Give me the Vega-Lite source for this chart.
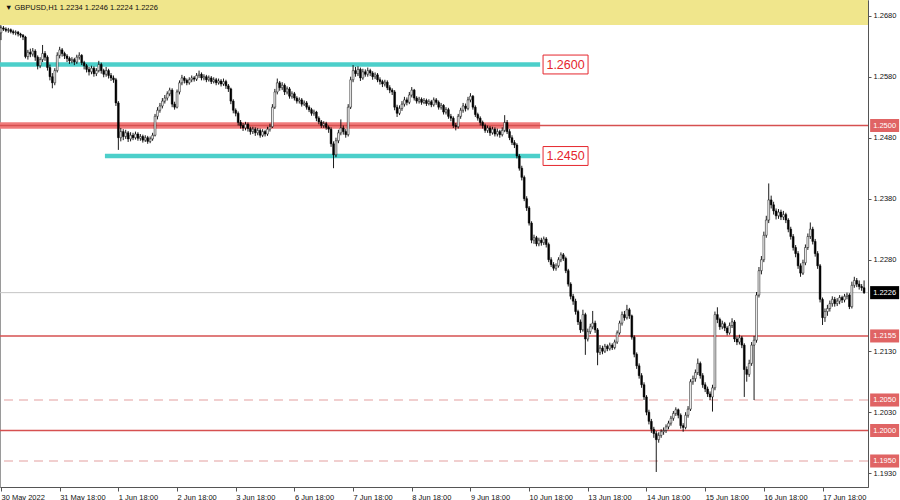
{
"$schema": "https://vega.github.io/schema/vega-lite/v6.json",
"width": 868,
"height": 487,
"autosize": {"type": "none"},
"padding": {"left": 0, "top": 0, "right": 32, "bottom": 13},
"background": "white",
"config": {
"view": {"stroke": "#9a9a9a", "strokeWidth": 1},
"axis": {"grid": false, "labelFont": "Liberation Sans", "labelFontSize": 7.5, "labelColor": "#111", "tickColor": "#555", "domainColor": "#555", "labelOverlap": false, "labelFlush": false}
},
"datasets": {
"band": [{"lo": 1.26648, "hi": 1.270574}],
"levels": [
{"p": 1.2500, "k": "solid"}, {"p": 1.2155, "k": "solid"}, {"p": 1.2000, "k": "solid"},
{"p": 1.2050, "k": "dash"}, {"p": 1.1950, "k": "dash"}, {"p": 1.2226, "k": "cur"}
],
"zones": [
{"p": 1.2600, "k": "cyan", "from": -0.4, "to": 220.5},
{"p": 1.2450, "k": "cyan", "from": 42.5, "to": 220.5},
{"p": 1.2500, "k": "red", "from": -0.4, "to": 220.5}
],
"tags": [{"p": 1.2600, "t": "1.2600"}, {"p": 1.2450, "t": "1.2450"}],
"boxes": [
{"p": 1.2500, "t": "1.2500", "k": "lvl"}, {"p": 1.2226, "t": "1.2226", "k": "cur"},
{"p": 1.2155, "t": "1.2155", "k": "lvl"}, {"p": 1.2050, "t": "1.2050", "k": "lvl"},
{"p": 1.2000, "t": "1.2000", "k": "lvl"}, {"p": 1.1950, "t": "1.1950", "k": "lvl"}
],
"header": [{"t": "▼ GBPUSD,H1  1.2234 1.2246 1.2224 1.2226"}],
"candles": [
{"i":0,"o":1.2652,"h":1.2664,"l":1.2640,"c":1.2660},
{"i":1,"o":1.2660,"h":1.2663,"l":1.2655,"c":1.2658},
{"i":2,"o":1.2658,"h":1.2661,"l":1.2653,"c":1.2656},
{"i":3,"o":1.2656,"h":1.2660,"l":1.2652,"c":1.2657},
{"i":4,"o":1.2657,"h":1.2659,"l":1.2651,"c":1.2654},
{"i":5,"o":1.2654,"h":1.2657,"l":1.2649,"c":1.2652},
{"i":6,"o":1.2652,"h":1.2656,"l":1.2648,"c":1.2653},
{"i":7,"o":1.2653,"h":1.2655,"l":1.2646,"c":1.2650},
{"i":8,"o":1.2650,"h":1.2652,"l":1.2644,"c":1.2648},
{"i":9,"o":1.2648,"h":1.2650,"l":1.2640,"c":1.2645},
{"i":10,"o":1.2645,"h":1.2647,"l":1.2610,"c":1.2613},
{"i":11,"o":1.2613,"h":1.2624,"l":1.2608,"c":1.2620},
{"i":12,"o":1.2620,"h":1.2626,"l":1.2612,"c":1.2617},
{"i":13,"o":1.2617,"h":1.2627,"l":1.2613,"c":1.2622},
{"i":14,"o":1.2622,"h":1.2625,"l":1.2606,"c":1.2612},
{"i":15,"o":1.2612,"h":1.2615,"l":1.2592,"c":1.2598},
{"i":16,"o":1.2598,"h":1.2612,"l":1.2594,"c":1.2608},
{"i":17,"o":1.2608,"h":1.2632,"l":1.2604,"c":1.2618},
{"i":18,"o":1.2618,"h":1.2622,"l":1.2606,"c":1.2612},
{"i":19,"o":1.2612,"h":1.2615,"l":1.2590,"c":1.2595},
{"i":20,"o":1.2595,"h":1.2600,"l":1.2574,"c":1.2580},
{"i":21,"o":1.2580,"h":1.2586,"l":1.2561,"c":1.2570},
{"i":22,"o":1.2570,"h":1.2594,"l":1.2566,"c":1.2590},
{"i":23,"o":1.2590,"h":1.2620,"l":1.2587,"c":1.2615},
{"i":24,"o":1.2615,"h":1.2629,"l":1.2610,"c":1.2624},
{"i":25,"o":1.2624,"h":1.2627,"l":1.2613,"c":1.2618},
{"i":26,"o":1.2618,"h":1.2621,"l":1.2609,"c":1.2614},
{"i":27,"o":1.2614,"h":1.2617,"l":1.2604,"c":1.2610},
{"i":28,"o":1.2610,"h":1.2613,"l":1.2601,"c":1.2606},
{"i":29,"o":1.2606,"h":1.2612,"l":1.2602,"c":1.2608},
{"i":30,"o":1.2608,"h":1.2611,"l":1.2599,"c":1.2604},
{"i":31,"o":1.2604,"h":1.2616,"l":1.2601,"c":1.2612},
{"i":32,"o":1.2612,"h":1.2620,"l":1.2608,"c":1.2615},
{"i":33,"o":1.2615,"h":1.2617,"l":1.2599,"c":1.2603},
{"i":34,"o":1.2603,"h":1.2606,"l":1.2592,"c":1.2598},
{"i":35,"o":1.2598,"h":1.2601,"l":1.2587,"c":1.2592},
{"i":36,"o":1.2592,"h":1.2596,"l":1.2582,"c":1.2588},
{"i":37,"o":1.2588,"h":1.2598,"l":1.2584,"c":1.2594},
{"i":38,"o":1.2594,"h":1.2597,"l":1.2580,"c":1.2585},
{"i":39,"o":1.2585,"h":1.2594,"l":1.2581,"c":1.2590},
{"i":40,"o":1.2590,"h":1.2606,"l":1.2587,"c":1.2600},
{"i":41,"o":1.2600,"h":1.2603,"l":1.2585,"c":1.2590},
{"i":42,"o":1.2590,"h":1.2593,"l":1.2579,"c":1.2584},
{"i":43,"o":1.2584,"h":1.2596,"l":1.2580,"c":1.2590},
{"i":44,"o":1.2590,"h":1.2593,"l":1.2577,"c":1.2582},
{"i":45,"o":1.2582,"h":1.2586,"l":1.2573,"c":1.2578},
{"i":46,"o":1.2578,"h":1.2582,"l":1.2570,"c":1.2575},
{"i":47,"o":1.2575,"h":1.2578,"l":1.2532,"c":1.2537},
{"i":48,"o":1.2537,"h":1.2540,"l":1.2460,"c":1.2480},
{"i":49,"o":1.2480,"h":1.2496,"l":1.2474,"c":1.2490},
{"i":50,"o":1.2490,"h":1.2494,"l":1.2476,"c":1.2482},
{"i":51,"o":1.2482,"h":1.2493,"l":1.2478,"c":1.2488},
{"i":52,"o":1.2488,"h":1.2491,"l":1.2473,"c":1.2478},
{"i":53,"o":1.2478,"h":1.2489,"l":1.2474,"c":1.2484},
{"i":54,"o":1.2484,"h":1.2488,"l":1.2476,"c":1.2480},
{"i":55,"o":1.2480,"h":1.2490,"l":1.2477,"c":1.2486},
{"i":56,"o":1.2486,"h":1.2489,"l":1.2475,"c":1.2479},
{"i":57,"o":1.2479,"h":1.2486,"l":1.2475,"c":1.2482},
{"i":58,"o":1.2482,"h":1.2485,"l":1.2472,"c":1.2476},
{"i":59,"o":1.2476,"h":1.2484,"l":1.2473,"c":1.2480},
{"i":60,"o":1.2480,"h":1.2483,"l":1.2470,"c":1.2474},
{"i":61,"o":1.2474,"h":1.2482,"l":1.2471,"c":1.2478},
{"i":62,"o":1.2478,"h":1.2488,"l":1.2475,"c":1.2484},
{"i":63,"o":1.2484,"h":1.2519,"l":1.2482,"c":1.2515},
{"i":64,"o":1.2515,"h":1.2530,"l":1.2510,"c":1.2525},
{"i":65,"o":1.2525,"h":1.2537,"l":1.2521,"c":1.2532},
{"i":66,"o":1.2532,"h":1.2545,"l":1.2528,"c":1.2540},
{"i":67,"o":1.2540,"h":1.2550,"l":1.2536,"c":1.2545},
{"i":68,"o":1.2545,"h":1.2556,"l":1.2541,"c":1.2552},
{"i":69,"o":1.2552,"h":1.2562,"l":1.2548,"c":1.2558},
{"i":70,"o":1.2558,"h":1.2561,"l":1.2530,"c":1.2535},
{"i":71,"o":1.2535,"h":1.2539,"l":1.2526,"c":1.2530},
{"i":72,"o":1.2530,"h":1.2559,"l":1.2528,"c":1.2555},
{"i":73,"o":1.2555,"h":1.2574,"l":1.2551,"c":1.2570},
{"i":74,"o":1.2570,"h":1.2583,"l":1.2566,"c":1.2578},
{"i":75,"o":1.2578,"h":1.2581,"l":1.2569,"c":1.2574},
{"i":76,"o":1.2574,"h":1.2577,"l":1.2566,"c":1.2570},
{"i":77,"o":1.2570,"h":1.2579,"l":1.2567,"c":1.2575},
{"i":78,"o":1.2575,"h":1.2582,"l":1.2571,"c":1.2578},
{"i":79,"o":1.2578,"h":1.2581,"l":1.2572,"c":1.2576},
{"i":80,"o":1.2576,"h":1.2586,"l":1.2573,"c":1.2582},
{"i":81,"o":1.2582,"h":1.2590,"l":1.2578,"c":1.2584},
{"i":82,"o":1.2584,"h":1.2587,"l":1.2574,"c":1.2578},
{"i":83,"o":1.2578,"h":1.2584,"l":1.2574,"c":1.2580},
{"i":84,"o":1.2580,"h":1.2583,"l":1.2571,"c":1.2575},
{"i":85,"o":1.2575,"h":1.2582,"l":1.2572,"c":1.2578},
{"i":86,"o":1.2578,"h":1.2581,"l":1.2568,"c":1.2572},
{"i":87,"o":1.2572,"h":1.2579,"l":1.2569,"c":1.2575},
{"i":88,"o":1.2575,"h":1.2578,"l":1.2566,"c":1.2570},
{"i":89,"o":1.2570,"h":1.2577,"l":1.2567,"c":1.2573},
{"i":90,"o":1.2573,"h":1.2576,"l":1.2564,"c":1.2568},
{"i":91,"o":1.2568,"h":1.2577,"l":1.2565,"c":1.2572},
{"i":92,"o":1.2572,"h":1.2575,"l":1.2560,"c":1.2565},
{"i":93,"o":1.2565,"h":1.2568,"l":1.2555,"c":1.2560},
{"i":94,"o":1.2560,"h":1.2562,"l":1.2535,"c":1.2540},
{"i":95,"o":1.2540,"h":1.2543,"l":1.2520,"c":1.2525},
{"i":96,"o":1.2525,"h":1.2528,"l":1.2515,"c":1.2520},
{"i":97,"o":1.2520,"h":1.2523,"l":1.2500,"c":1.2505},
{"i":98,"o":1.2505,"h":1.2509,"l":1.2495,"c":1.2500},
{"i":99,"o":1.2500,"h":1.2504,"l":1.2491,"c":1.2496},
{"i":100,"o":1.2496,"h":1.2506,"l":1.2492,"c":1.2502},
{"i":101,"o":1.2502,"h":1.2505,"l":1.2490,"c":1.2495},
{"i":102,"o":1.2495,"h":1.2498,"l":1.2485,"c":1.2490},
{"i":103,"o":1.2490,"h":1.2498,"l":1.2486,"c":1.2494},
{"i":104,"o":1.2494,"h":1.2497,"l":1.2483,"c":1.2488},
{"i":105,"o":1.2488,"h":1.2496,"l":1.2484,"c":1.2492},
{"i":106,"o":1.2492,"h":1.2495,"l":1.2480,"c":1.2484},
{"i":107,"o":1.2484,"h":1.2494,"l":1.2481,"c":1.2490},
{"i":108,"o":1.2490,"h":1.2493,"l":1.2482,"c":1.2486},
{"i":109,"o":1.2486,"h":1.2498,"l":1.2483,"c":1.2494},
{"i":110,"o":1.2494,"h":1.2503,"l":1.2490,"c":1.2498},
{"i":111,"o":1.2498,"h":1.2535,"l":1.2496,"c":1.2530},
{"i":112,"o":1.2530,"h":1.2560,"l":1.2527,"c":1.2555},
{"i":113,"o":1.2555,"h":1.2577,"l":1.2551,"c":1.2570},
{"i":114,"o":1.2570,"h":1.2573,"l":1.2557,"c":1.2562},
{"i":115,"o":1.2562,"h":1.2571,"l":1.2558,"c":1.2566},
{"i":116,"o":1.2566,"h":1.2569,"l":1.2550,"c":1.2555},
{"i":117,"o":1.2555,"h":1.2564,"l":1.2551,"c":1.2560},
{"i":118,"o":1.2560,"h":1.2563,"l":1.2544,"c":1.2548},
{"i":119,"o":1.2548,"h":1.2556,"l":1.2544,"c":1.2552},
{"i":120,"o":1.2552,"h":1.2555,"l":1.2541,"c":1.2545},
{"i":121,"o":1.2545,"h":1.2548,"l":1.2536,"c":1.2540},
{"i":122,"o":1.2540,"h":1.2546,"l":1.2536,"c":1.2542},
{"i":123,"o":1.2542,"h":1.2545,"l":1.2531,"c":1.2535},
{"i":124,"o":1.2535,"h":1.2541,"l":1.2532,"c":1.2537},
{"i":125,"o":1.2537,"h":1.2540,"l":1.2526,"c":1.2530},
{"i":126,"o":1.2530,"h":1.2533,"l":1.2522,"c":1.2526},
{"i":127,"o":1.2526,"h":1.2529,"l":1.2516,"c":1.2520},
{"i":128,"o":1.2520,"h":1.2526,"l":1.2516,"c":1.2522},
{"i":129,"o":1.2522,"h":1.2524,"l":1.2507,"c":1.2512},
{"i":130,"o":1.2512,"h":1.2515,"l":1.2502,"c":1.2506},
{"i":131,"o":1.2506,"h":1.2509,"l":1.2496,"c":1.2500},
{"i":132,"o":1.2500,"h":1.2507,"l":1.2496,"c":1.2503},
{"i":133,"o":1.2503,"h":1.2506,"l":1.2493,"c":1.2497},
{"i":134,"o":1.2497,"h":1.2500,"l":1.2488,"c":1.2494},
{"i":135,"o":1.2494,"h":1.2497,"l":1.2465,"c":1.2470},
{"i":136,"o":1.2470,"h":1.2474,"l":1.2430,"c":1.2452},
{"i":137,"o":1.2452,"h":1.2480,"l":1.2448,"c":1.2475},
{"i":138,"o":1.2475,"h":1.2493,"l":1.2471,"c":1.2488},
{"i":139,"o":1.2488,"h":1.2510,"l":1.2484,"c":1.2496},
{"i":140,"o":1.2496,"h":1.2500,"l":1.2485,"c":1.2490},
{"i":141,"o":1.2490,"h":1.2494,"l":1.2480,"c":1.2485},
{"i":142,"o":1.2485,"h":1.2535,"l":1.2482,"c":1.2530},
{"i":143,"o":1.2530,"h":1.2580,"l":1.2527,"c":1.2575},
{"i":144,"o":1.2575,"h":1.2599,"l":1.2571,"c":1.2590},
{"i":145,"o":1.2590,"h":1.2596,"l":1.2580,"c":1.2585},
{"i":146,"o":1.2585,"h":1.2597,"l":1.2581,"c":1.2592},
{"i":147,"o":1.2592,"h":1.2595,"l":1.2573,"c":1.2578},
{"i":148,"o":1.2578,"h":1.2593,"l":1.2575,"c":1.2588},
{"i":149,"o":1.2588,"h":1.2592,"l":1.2580,"c":1.2584},
{"i":150,"o":1.2584,"h":1.2595,"l":1.2580,"c":1.2590},
{"i":151,"o":1.2590,"h":1.2593,"l":1.2581,"c":1.2586},
{"i":152,"o":1.2586,"h":1.2589,"l":1.2575,"c":1.2580},
{"i":153,"o":1.2580,"h":1.2587,"l":1.2576,"c":1.2583},
{"i":154,"o":1.2583,"h":1.2586,"l":1.2571,"c":1.2575},
{"i":155,"o":1.2575,"h":1.2579,"l":1.2567,"c":1.2572},
{"i":156,"o":1.2572,"h":1.2575,"l":1.2563,"c":1.2568},
{"i":157,"o":1.2568,"h":1.2575,"l":1.2564,"c":1.2571},
{"i":158,"o":1.2571,"h":1.2574,"l":1.2558,"c":1.2562},
{"i":159,"o":1.2562,"h":1.2566,"l":1.2553,"c":1.2558},
{"i":160,"o":1.2558,"h":1.2561,"l":1.2550,"c":1.2555},
{"i":161,"o":1.2555,"h":1.2558,"l":1.2525,"c":1.2530},
{"i":162,"o":1.2530,"h":1.2534,"l":1.2514,"c":1.2520},
{"i":163,"o":1.2520,"h":1.2533,"l":1.2517,"c":1.2528},
{"i":164,"o":1.2528,"h":1.2540,"l":1.2524,"c":1.2535},
{"i":165,"o":1.2535,"h":1.2547,"l":1.2531,"c":1.2542},
{"i":166,"o":1.2542,"h":1.2546,"l":1.2533,"c":1.2538},
{"i":167,"o":1.2538,"h":1.2555,"l":1.2535,"c":1.2550},
{"i":168,"o":1.2550,"h":1.2563,"l":1.2546,"c":1.2558},
{"i":169,"o":1.2558,"h":1.2560,"l":1.2541,"c":1.2545},
{"i":170,"o":1.2545,"h":1.2548,"l":1.2536,"c":1.2540},
{"i":171,"o":1.2540,"h":1.2547,"l":1.2536,"c":1.2543},
{"i":172,"o":1.2543,"h":1.2546,"l":1.2534,"c":1.2538},
{"i":173,"o":1.2538,"h":1.2545,"l":1.2535,"c":1.2541},
{"i":174,"o":1.2541,"h":1.2544,"l":1.2532,"c":1.2536},
{"i":175,"o":1.2536,"h":1.2543,"l":1.2533,"c":1.2539},
{"i":176,"o":1.2539,"h":1.2542,"l":1.2530,"c":1.2534},
{"i":177,"o":1.2534,"h":1.2546,"l":1.2531,"c":1.2542},
{"i":178,"o":1.2542,"h":1.2545,"l":1.2534,"c":1.2538},
{"i":179,"o":1.2538,"h":1.2541,"l":1.2526,"c":1.2530},
{"i":180,"o":1.2530,"h":1.2537,"l":1.2526,"c":1.2533},
{"i":181,"o":1.2533,"h":1.2535,"l":1.2518,"c":1.2522},
{"i":182,"o":1.2522,"h":1.2530,"l":1.2518,"c":1.2526},
{"i":183,"o":1.2526,"h":1.2529,"l":1.2511,"c":1.2515},
{"i":184,"o":1.2515,"h":1.2519,"l":1.2507,"c":1.2512},
{"i":185,"o":1.2512,"h":1.2515,"l":1.2496,"c":1.2500},
{"i":186,"o":1.2500,"h":1.2504,"l":1.2492,"c":1.2498},
{"i":187,"o":1.2498,"h":1.2519,"l":1.2495,"c":1.2515},
{"i":188,"o":1.2515,"h":1.2529,"l":1.2511,"c":1.2525},
{"i":189,"o":1.2525,"h":1.2537,"l":1.2521,"c":1.2532},
{"i":190,"o":1.2532,"h":1.2536,"l":1.2523,"c":1.2528},
{"i":191,"o":1.2528,"h":1.2547,"l":1.2525,"c":1.2542},
{"i":192,"o":1.2542,"h":1.2553,"l":1.2538,"c":1.2548},
{"i":193,"o":1.2548,"h":1.2550,"l":1.2526,"c":1.2530},
{"i":194,"o":1.2530,"h":1.2533,"l":1.2514,"c":1.2518},
{"i":195,"o":1.2518,"h":1.2521,"l":1.2508,"c":1.2512},
{"i":196,"o":1.2512,"h":1.2515,"l":1.2500,"c":1.2505},
{"i":197,"o":1.2505,"h":1.2508,"l":1.2495,"c":1.2500},
{"i":198,"o":1.2500,"h":1.2503,"l":1.2488,"c":1.2492},
{"i":199,"o":1.2492,"h":1.2500,"l":1.2488,"c":1.2496},
{"i":200,"o":1.2496,"h":1.2499,"l":1.2483,"c":1.2488},
{"i":201,"o":1.2488,"h":1.2498,"l":1.2485,"c":1.2494},
{"i":202,"o":1.2494,"h":1.2497,"l":1.2482,"c":1.2486},
{"i":203,"o":1.2486,"h":1.2495,"l":1.2482,"c":1.2490},
{"i":204,"o":1.2490,"h":1.2493,"l":1.2480,"c":1.2485},
{"i":205,"o":1.2485,"h":1.2497,"l":1.2482,"c":1.2492},
{"i":206,"o":1.2492,"h":1.2517,"l":1.2489,"c":1.2505},
{"i":207,"o":1.2505,"h":1.2509,"l":1.2486,"c":1.2490},
{"i":208,"o":1.2490,"h":1.2494,"l":1.2476,"c":1.2480},
{"i":209,"o":1.2480,"h":1.2484,"l":1.2468,"c":1.2472},
{"i":210,"o":1.2472,"h":1.2476,"l":1.2463,"c":1.2468},
{"i":211,"o":1.2468,"h":1.2471,"l":1.2446,"c":1.2450},
{"i":212,"o":1.2450,"h":1.2453,"l":1.2426,"c":1.2430},
{"i":213,"o":1.2430,"h":1.2434,"l":1.2410,"c":1.2415},
{"i":214,"o":1.2415,"h":1.2418,"l":1.2376,"c":1.2380},
{"i":215,"o":1.2380,"h":1.2384,"l":1.2360,"c":1.2365},
{"i":216,"o":1.2365,"h":1.2368,"l":1.2336,"c":1.2340},
{"i":217,"o":1.2340,"h":1.2343,"l":1.2307,"c":1.2312},
{"i":218,"o":1.2312,"h":1.2321,"l":1.2306,"c":1.2316},
{"i":219,"o":1.2316,"h":1.2319,"l":1.2302,"c":1.2306},
{"i":220,"o":1.2306,"h":1.2316,"l":1.2302,"c":1.2312},
{"i":221,"o":1.2312,"h":1.2316,"l":1.2303,"c":1.2308},
{"i":222,"o":1.2308,"h":1.2318,"l":1.2304,"c":1.2314},
{"i":223,"o":1.2314,"h":1.2317,"l":1.2300,"c":1.2305},
{"i":224,"o":1.2305,"h":1.2308,"l":1.2276,"c":1.2280},
{"i":225,"o":1.2280,"h":1.2284,"l":1.2268,"c":1.2272},
{"i":226,"o":1.2272,"h":1.2276,"l":1.2262,"c":1.2266},
{"i":227,"o":1.2266,"h":1.2274,"l":1.2262,"c":1.2270},
{"i":228,"o":1.2270,"h":1.2284,"l":1.2267,"c":1.2280},
{"i":229,"o":1.2280,"h":1.2292,"l":1.2276,"c":1.2288},
{"i":230,"o":1.2288,"h":1.2291,"l":1.2278,"c":1.2282},
{"i":231,"o":1.2282,"h":1.2285,"l":1.2258,"c":1.2262},
{"i":232,"o":1.2262,"h":1.2265,"l":1.2236,"c":1.2240},
{"i":233,"o":1.2240,"h":1.2243,"l":1.2215,"c":1.2220},
{"i":234,"o":1.2220,"h":1.2224,"l":1.2206,"c":1.2212},
{"i":235,"o":1.2212,"h":1.2216,"l":1.2190,"c":1.2195},
{"i":236,"o":1.2195,"h":1.2198,"l":1.2173,"c":1.2178},
{"i":237,"o":1.2178,"h":1.2182,"l":1.2160,"c":1.2165},
{"i":238,"o":1.2165,"h":1.2198,"l":1.2162,"c":1.2190},
{"i":239,"o":1.2190,"h":1.2193,"l":1.2124,"c":1.2150},
{"i":240,"o":1.2150,"h":1.2167,"l":1.2146,"c":1.2162},
{"i":241,"o":1.2162,"h":1.2175,"l":1.2158,"c":1.2170},
{"i":242,"o":1.2170,"h":1.2196,"l":1.2166,"c":1.2176},
{"i":243,"o":1.2176,"h":1.2180,"l":1.2160,"c":1.2165},
{"i":244,"o":1.2165,"h":1.2168,"l":1.2107,"c":1.2128},
{"i":245,"o":1.2128,"h":1.2140,"l":1.2124,"c":1.2135},
{"i":246,"o":1.2135,"h":1.2139,"l":1.2125,"c":1.2130},
{"i":247,"o":1.2130,"h":1.2142,"l":1.2127,"c":1.2138},
{"i":248,"o":1.2138,"h":1.2141,"l":1.2130,"c":1.2134},
{"i":249,"o":1.2134,"h":1.2144,"l":1.2131,"c":1.2140},
{"i":250,"o":1.2140,"h":1.2143,"l":1.2132,"c":1.2136},
{"i":251,"o":1.2136,"h":1.2149,"l":1.2133,"c":1.2145},
{"i":252,"o":1.2145,"h":1.2164,"l":1.2142,"c":1.2160},
{"i":253,"o":1.2160,"h":1.2180,"l":1.2157,"c":1.2176},
{"i":254,"o":1.2176,"h":1.2195,"l":1.2172,"c":1.2190},
{"i":255,"o":1.2190,"h":1.2196,"l":1.2180,"c":1.2185},
{"i":256,"o":1.2185,"h":1.2206,"l":1.2182,"c":1.2198},
{"i":257,"o":1.2198,"h":1.2201,"l":1.2183,"c":1.2188},
{"i":258,"o":1.2188,"h":1.2190,"l":1.2149,"c":1.2153},
{"i":259,"o":1.2153,"h":1.2156,"l":1.2120,"c":1.2125},
{"i":260,"o":1.2125,"h":1.2128,"l":1.2101,"c":1.2106},
{"i":261,"o":1.2106,"h":1.2110,"l":1.2085,"c":1.2090},
{"i":262,"o":1.2090,"h":1.2094,"l":1.2070,"c":1.2075},
{"i":263,"o":1.2075,"h":1.2079,"l":1.2050,"c":1.2055},
{"i":264,"o":1.2055,"h":1.2058,"l":1.2025,"c":1.2030},
{"i":265,"o":1.2030,"h":1.2034,"l":1.2010,"c":1.2015},
{"i":266,"o":1.2015,"h":1.2019,"l":1.1996,"c":1.2002},
{"i":267,"o":1.2002,"h":1.2006,"l":1.1988,"c":1.1995},
{"i":268,"o":1.1995,"h":1.1999,"l":1.1932,"c":1.1985},
{"i":269,"o":1.1985,"h":1.1997,"l":1.1980,"c":1.1992},
{"i":270,"o":1.1992,"h":1.2002,"l":1.1988,"c":1.1998},
{"i":271,"o":1.1998,"h":1.2005,"l":1.1993,"c":1.2000},
{"i":272,"o":1.2000,"h":1.2010,"l":1.1996,"c":1.2006},
{"i":273,"o":1.2006,"h":1.2016,"l":1.2002,"c":1.2012},
{"i":274,"o":1.2012,"h":1.2024,"l":1.2008,"c":1.2020},
{"i":275,"o":1.2020,"h":1.2032,"l":1.2016,"c":1.2028},
{"i":276,"o":1.2028,"h":1.2038,"l":1.2024,"c":1.2034},
{"i":277,"o":1.2034,"h":1.2036,"l":1.2020,"c":1.2025},
{"i":278,"o":1.2025,"h":1.2028,"l":1.2003,"c":1.2008},
{"i":279,"o":1.2008,"h":1.2012,"l":1.1998,"c":1.2005},
{"i":280,"o":1.2005,"h":1.2030,"l":1.2002,"c":1.2025},
{"i":281,"o":1.2025,"h":1.2040,"l":1.2021,"c":1.2035},
{"i":282,"o":1.2035,"h":1.2084,"l":1.2032,"c":1.2080},
{"i":283,"o":1.2080,"h":1.2090,"l":1.2075,"c":1.2085},
{"i":284,"o":1.2085,"h":1.2100,"l":1.2080,"c":1.2095},
{"i":285,"o":1.2095,"h":1.2118,"l":1.2091,"c":1.2110},
{"i":286,"o":1.2110,"h":1.2113,"l":1.2085,"c":1.2090},
{"i":287,"o":1.2090,"h":1.2094,"l":1.2070,"c":1.2075},
{"i":288,"o":1.2075,"h":1.2079,"l":1.2063,"c":1.2068},
{"i":289,"o":1.2068,"h":1.2072,"l":1.2055,"c":1.2060},
{"i":290,"o":1.2060,"h":1.2064,"l":1.2050,"c":1.2055},
{"i":291,"o":1.2055,"h":1.2075,"l":1.2031,"c":1.2070},
{"i":292,"o":1.2070,"h":1.2195,"l":1.2066,"c":1.2190},
{"i":293,"o":1.2190,"h":1.2202,"l":1.2176,"c":1.2182},
{"i":294,"o":1.2182,"h":1.2185,"l":1.2165,"c":1.2170},
{"i":295,"o":1.2170,"h":1.2180,"l":1.2166,"c":1.2175},
{"i":296,"o":1.2175,"h":1.2178,"l":1.2163,"c":1.2168},
{"i":297,"o":1.2168,"h":1.2171,"l":1.2156,"c":1.2160},
{"i":298,"o":1.2160,"h":1.2177,"l":1.2157,"c":1.2172},
{"i":299,"o":1.2172,"h":1.2184,"l":1.2168,"c":1.2178},
{"i":300,"o":1.2178,"h":1.2181,"l":1.2145,"c":1.2150},
{"i":301,"o":1.2150,"h":1.2154,"l":1.2140,"c":1.2145},
{"i":302,"o":1.2145,"h":1.2157,"l":1.2141,"c":1.2152},
{"i":303,"o":1.2152,"h":1.2155,"l":1.2135,"c":1.2140},
{"i":304,"o":1.2140,"h":1.2143,"l":1.2055,"c":1.2100},
{"i":305,"o":1.2100,"h":1.2105,"l":1.2080,"c":1.2092},
{"i":306,"o":1.2092,"h":1.2116,"l":1.2088,"c":1.2110},
{"i":307,"o":1.2110,"h":1.2145,"l":1.2106,"c":1.2140},
{"i":308,"o":1.2140,"h":1.2155,"l":1.2050,"c":1.2148},
{"i":309,"o":1.2148,"h":1.2227,"l":1.2144,"c":1.2222},
{"i":310,"o":1.2222,"h":1.2268,"l":1.2218,"c":1.2262},
{"i":311,"o":1.2262,"h":1.2286,"l":1.2256,"c":1.2280},
{"i":312,"o":1.2280,"h":1.2326,"l":1.2276,"c":1.2320},
{"i":313,"o":1.2320,"h":1.2352,"l":1.2316,"c":1.2345},
{"i":314,"o":1.2345,"h":1.2405,"l":1.2340,"c":1.2378},
{"i":315,"o":1.2378,"h":1.2385,"l":1.2364,"c":1.2370},
{"i":316,"o":1.2370,"h":1.2375,"l":1.2354,"c":1.2360},
{"i":317,"o":1.2360,"h":1.2364,"l":1.2346,"c":1.2352},
{"i":318,"o":1.2352,"h":1.2363,"l":1.2347,"c":1.2358},
{"i":319,"o":1.2358,"h":1.2362,"l":1.2345,"c":1.2350},
{"i":320,"o":1.2350,"h":1.2360,"l":1.2345,"c":1.2354},
{"i":321,"o":1.2354,"h":1.2357,"l":1.2340,"c":1.2345},
{"i":322,"o":1.2345,"h":1.2348,"l":1.2325,"c":1.2330},
{"i":323,"o":1.2330,"h":1.2334,"l":1.2313,"c":1.2318},
{"i":324,"o":1.2318,"h":1.2322,"l":1.2295,"c":1.2300},
{"i":325,"o":1.2300,"h":1.2304,"l":1.2284,"c":1.2290},
{"i":326,"o":1.2290,"h":1.2294,"l":1.2265,"c":1.2270},
{"i":327,"o":1.2270,"h":1.2274,"l":1.2252,"c":1.2258},
{"i":328,"o":1.2258,"h":1.2280,"l":1.2255,"c":1.2275},
{"i":329,"o":1.2275,"h":1.2305,"l":1.2271,"c":1.2300},
{"i":330,"o":1.2300,"h":1.2323,"l":1.2296,"c":1.2318},
{"i":331,"o":1.2318,"h":1.2341,"l":1.2314,"c":1.2330},
{"i":332,"o":1.2330,"h":1.2334,"l":1.2305,"c":1.2310},
{"i":333,"o":1.2310,"h":1.2314,"l":1.2285,"c":1.2290},
{"i":334,"o":1.2290,"h":1.2294,"l":1.2265,"c":1.2270},
{"i":335,"o":1.2270,"h":1.2273,"l":1.2210,"c":1.2215},
{"i":336,"o":1.2215,"h":1.2218,"l":1.2173,"c":1.2185},
{"i":337,"o":1.2185,"h":1.2200,"l":1.2178,"c":1.2195},
{"i":338,"o":1.2195,"h":1.2206,"l":1.2188,"c":1.2200},
{"i":339,"o":1.2200,"h":1.2213,"l":1.2195,"c":1.2208},
{"i":340,"o":1.2208,"h":1.2220,"l":1.2203,"c":1.2215},
{"i":341,"o":1.2215,"h":1.2219,"l":1.2203,"c":1.2208},
{"i":342,"o":1.2208,"h":1.2217,"l":1.2204,"c":1.2212},
{"i":343,"o":1.2212,"h":1.2222,"l":1.2207,"c":1.2218},
{"i":344,"o":1.2218,"h":1.2221,"l":1.2209,"c":1.2214},
{"i":345,"o":1.2214,"h":1.2224,"l":1.2210,"c":1.2220},
{"i":346,"o":1.2220,"h":1.2226,"l":1.2215,"c":1.2222},
{"i":347,"o":1.2222,"h":1.2225,"l":1.2199,"c":1.2203},
{"i":348,"o":1.2203,"h":1.2244,"l":1.2200,"c":1.2238},
{"i":349,"o":1.2238,"h":1.2252,"l":1.2234,"c":1.2246},
{"i":350,"o":1.2246,"h":1.2250,"l":1.2235,"c":1.2240},
{"i":351,"o":1.2240,"h":1.2246,"l":1.2231,"c":1.2236},
{"i":352,"o":1.2236,"h":1.2240,"l":1.2229,"c":1.2234},
{"i":353,"o":1.2234,"h":1.2246,"l":1.2224,"c":1.2226}
]
},
"layer": [
{
"data": {"name": "band"},
"mark": {"type": "rect", "color": "#f0e68c", "clip": true},
"encoding": {
"y": {"field": "lo", "type": "quantitative", "scale": {"domain": [1.190738, 1.270574], "nice": false, "zero": false, "padding": 0}, "axis": {"title": null}},
"y2": {"field": "hi"}
}
},
{
"data": {"name": "header"},
"mark": {"type": "text", "align": "left", "baseline": "middle", "font": "Liberation Sans", "fontSize": 7.5, "color": "#111"},
"encoding": {
"x": {"datum": 1.6, "type": "quantitative", "scale": {"domain": [-0.41, 354.6], "nice": false, "zero": false, "padding": 0}, "axis": {"title": null}},
"y": {"datum": 1.26926, "type": "quantitative", "scale": {"domain": [1.190738, 1.270574], "nice": false, "zero": false, "padding": 0}, "axis": {"title": null}},
"text": {"field": "t"}
}
},
{
"data": {"name": "levels"},
"transform": [{"filter": "datum.k == 'cur'"}],
"mark": {"type": "rule", "color": "#c4c4c4", "strokeWidth": 1},
"encoding": {"y": {"field": "p", "type": "quantitative", "scale": {"domain": [1.190738, 1.270574], "nice": false, "zero": false, "padding": 0}, "axis": {"title": null}}}
},
{
"data": {"name": "levels"},
"transform": [{"filter": "datum.k == 'dash'"}],
"mark": {"type": "rule", "color": "#e4a0a0", "strokeWidth": 1.2, "strokeDash": [9, 6]},
"encoding": {"y": {"field": "p", "type": "quantitative", "scale": {"domain": [1.190738, 1.270574], "nice": false, "zero": false, "padding": 0}, "axis": {"title": null}}}
},
{
"data": {"name": "zones"},
"transform": [{"filter": "datum.k == 'cyan'"}],
"mark": {"type": "rule", "color": "#4ccfca", "strokeWidth": 4.5, "strokeCap": "butt"},
"encoding": {
"x": {"field": "from", "type": "quantitative", "scale": {"domain": [-0.41, 354.6], "nice": false, "zero": false, "padding": 0}, "axis": {"title": null}},
"x2": {"field": "to"},
"y": {"field": "p", "type": "quantitative", "scale": {"domain": [1.190738, 1.270574], "nice": false, "zero": false, "padding": 0}, "axis": {"title": null}}
}
},
{
"data": {"name": "zones"},
"transform": [{"filter": "datum.k == 'red'"}],
"mark": {"type": "rule", "color": "#f07c7c", "strokeWidth": 6.5, "strokeCap": "butt"},
"encoding": {
"x": {"field": "from", "type": "quantitative", "scale": {"domain": [-0.41, 354.6], "nice": false, "zero": false, "padding": 0}, "axis": {"title": null}},
"x2": {"field": "to"},
"y": {"field": "p", "type": "quantitative", "scale": {"domain": [1.190738, 1.270574], "nice": false, "zero": false, "padding": 0}, "axis": {"title": null}}
}
},
{
"data": {"name": "levels"},
"transform": [{"filter": "datum.k == 'solid'"}],
"mark": {"type": "rule", "color": "#d65050", "strokeWidth": 1.4},
"encoding": {"y": {"field": "p", "type": "quantitative", "scale": {"domain": [1.190738, 1.270574], "nice": false, "zero": false, "padding": 0}, "axis": {"title": null}}}
},
{
"data": {"name": "candles"},
"mark": {"type": "rule", "color": "#000", "strokeWidth": 0.9},
"encoding": {
"x": {"field": "i", "type": "quantitative",
"scale": {"domain": [-0.41, 354.6], "nice": false, "zero": false, "padding": 0},
"axis": {"title": null, "orient": "bottom", "values": [0,24,48,72,96,120,144,168,192,216,240,264,288,312,336],
"labelExpr": "['30 May 2022','31 May 18:00','1 Jun 18:00','2 Jun 18:00','3 Jun 18:00','6 Jun 18:00','7 Jun 18:00','8 Jun 18:00','9 Jun 18:00','10 Jun 18:00','13 Jun 18:00','14 Jun 18:00','15 Jun 18:00','16 Jun 18:00','17 Jun 18:00'][round(datum.value/24)]",
"labelAlign": "left", "labelPadding": 2, "tickSize": 4, "grid": false}},
"y": {"field": "l", "type": "quantitative",
"scale": {"domain": [1.190738, 1.270574], "nice": false, "zero": false, "padding": 0},
"axis": {"title": null, "orient": "right", "values": [1.193,1.198,1.203,1.208,1.213,1.218,1.228,1.233,1.238,1.243,1.248,1.253,1.258,1.263,1.268],
"format": ".4f", "labelPadding": 2, "tickSize": 3, "grid": false}},
"y2": {"field": "h"}
}
},
{
"data": {"name": "candles"},
"mark": {"type": "bar", "size": 1.8, "stroke": "#000", "strokeWidth": 0.5},
"encoding": {
"x": {"field": "i", "type": "quantitative", "scale": {"domain": [-0.41, 354.6], "nice": false, "zero": false, "padding": 0}, "axis": {"title": null}},
"y": {"field": "o", "type": "quantitative", "scale": {"domain": [1.190738, 1.270574], "nice": false, "zero": false, "padding": 0}, "axis": {"title": null}},
"y2": {"field": "c"},
"color": {"condition": {"test": "datum.c >= datum.o", "value": "#ffffff"}, "value": "#000000"}
}
},
{
"data": {"name": "tags"},
"mark": {"type": "point", "filled": true, "fill": "#ffffff", "stroke": "#e5262d", "strokeWidth": 1, "opacity": 1,
"shape": "M-1,-0.42L1,-0.42L1,0.42L-1,0.42Z", "size": 2025},
"encoding": {
"x": {"datum": 230.9, "type": "quantitative", "scale": {"domain": [-0.41, 354.6], "nice": false, "zero": false, "padding": 0}, "axis": {"title": null}},
"y": {"field": "p", "type": "quantitative", "scale": {"domain": [1.190738, 1.270574], "nice": false, "zero": false, "padding": 0}, "axis": {"title": null}}
}
},
{
"data": {"name": "tags"},
"mark": {"type": "text", "align": "center", "baseline": "middle", "font": "Liberation Sans", "fontSize": 12.5, "color": "#e5262d"},
"encoding": {
"x": {"datum": 230.9, "type": "quantitative", "scale": {"domain": [-0.41, 354.6], "nice": false, "zero": false, "padding": 0}, "axis": {"title": null}},
"y": {"field": "p", "type": "quantitative", "scale": {"domain": [1.190738, 1.270574], "nice": false, "zero": false, "padding": 0}, "axis": {"title": null}},
"text": {"field": "t"}
}
},
{
"data": {"name": "boxes"},
"mark": {"type": "point", "filled": true, "opacity": 1, "strokeWidth": 0, "clip": false,
"shape": "M-1,-0.45L1,-0.45L1,0.45L-1,0.45Z", "size": 841},
"encoding": {
"x": {"datum": 361.4, "type": "quantitative", "scale": {"domain": [-0.41, 354.6], "nice": false, "zero": false, "padding": 0}, "axis": {"title": null}},
"y": {"field": "p", "type": "quantitative", "scale": {"domain": [1.190738, 1.270574], "nice": false, "zero": false, "padding": 0}, "axis": {"title": null}},
"color": {"field": "k", "type": "nominal", "scale": {"domain": ["lvl", "cur"], "range": ["#e06464", "#000000"]}, "legend": null}
}
},
{
"data": {"name": "boxes"},
"mark": {"type": "text", "align": "center", "baseline": "middle", "font": "Liberation Sans", "fontSize": 7.5, "color": "#ffffff", "clip": false},
"encoding": {
"x": {"datum": 361.4, "type": "quantitative", "scale": {"domain": [-0.41, 354.6], "nice": false, "zero": false, "padding": 0}, "axis": {"title": null}},
"y": {"field": "p", "type": "quantitative", "scale": {"domain": [1.190738, 1.270574], "nice": false, "zero": false, "padding": 0}, "axis": {"title": null}},
"text": {"field": "t"}
}
}
]
}
